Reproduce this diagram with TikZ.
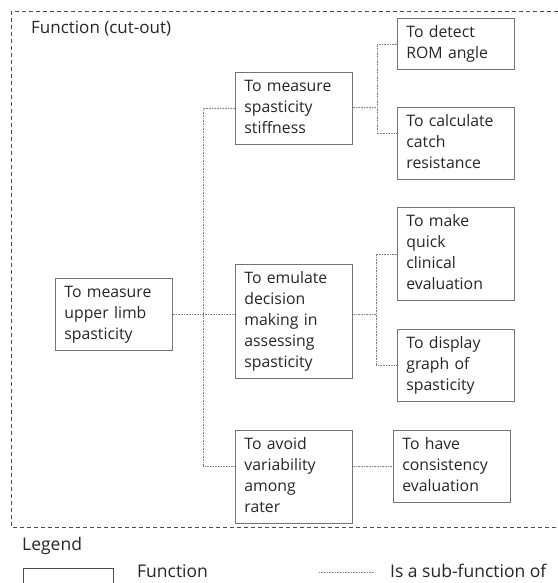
\documentclass[tikz,border=0pt]{standalone}
\usepackage{fontspec}
\setmainfont{Open Sans}
\begin{document}
\begin{tikzpicture}[x=1pt, y=-1pt,
        func/.style={draw=black!55, line width=0.8pt, anchor=north west,
            text width=99pt, inner xsep=9pt, inner ysep=4.5pt, align=left,
            font=\fontsize{15.8}{21}\selectfont, text=black!85,
            execute at begin node=\strut, execute at end node=\strut},
        subof/.style={draw=black!50, densely dotted, line width=0.6pt},
        lbl/.style={anchor=west, font=\fontsize{17}{20}\selectfont, text=black!85, inner sep=0pt},
        leglbl/.style={lbl, font=\fontsize{17.5}{20}\selectfont}]
        \useasboundingbox (0,0) rectangle (557,583);
        
        % Cut-out frame
        \draw[black!70, line width=1pt, dash pattern=on 4pt off 3pt]
            (565,12) -- (11,12) -- (11,527) -- (565,527);
        \node[lbl] (cutout) at (31,29) {Function (cut-out)};
        
        % Functions
        \node[func] (root) at (55,278) {To measure\\upper limb\\spasticity};
        \node[func] (stiff) at (235,72) {To measure\\spasticity\\stiffness};
        \node[func] (emulate) at (235,264) {To emulate\\decision\\making in\\assessing\\spasticity};
        \node[func] (avoid) at (235,430) {To avoid\\variability\\among\\rater};
        \node[func] (rom) at (397,18) {To detect\\ROM angle};
        \node[func] (catch) at (397,107) {To calculate\\catch\\resistance};
        \node[func] (quick) at (397,207) {To make\\quick\\clinical\\evaluation};
        \node[func] (graph) at (397,329) {To display\\graph of\\spasticity};
        \node[func] (consist) at (393,430) {To have\\consistency\\evaluation};
        
        % Sub-function links
        \coordinate (j1) at (203,314);
        \coordinate (j2) at (377,107);
        \coordinate (j3) at (376,314);
        \draw[subof] (root.east) -- (root.east -| emulate.west);
        \draw[subof] (stiff.west) -| (j1) |- (consist.west -| avoid.west);
        \draw[subof] (stiff.east |- j2) -- (j2);
        \draw[subof] (rom.west) -| (j2) |- ([yshift=10pt]catch.west);
        \draw[subof] (emulate.east |- j3) -- (j3);
        \draw[subof] (quick.west) -| (j3) |- (graph.west);
        \draw[subof] (avoid.east |- consist.west) -- (consist.west);
        
        % Legend
        \node[leglbl] (legend) at (22,546) {Legend};
        \draw[draw=black!70, line width=0.8pt] (23,600) -- (23,568) -- (113,568) -- (113,600);
        \node[leglbl] (legfunc) at (137,571) {Function};
        \coordinate (ls) at (319,572);
        \coordinate (le) at (375,572);
        \draw[subof] (ls) -- (le);
        \node[leglbl] (legsub) at (390,571) {Is a sub-function of};
    \end{tikzpicture}
\end{document}
